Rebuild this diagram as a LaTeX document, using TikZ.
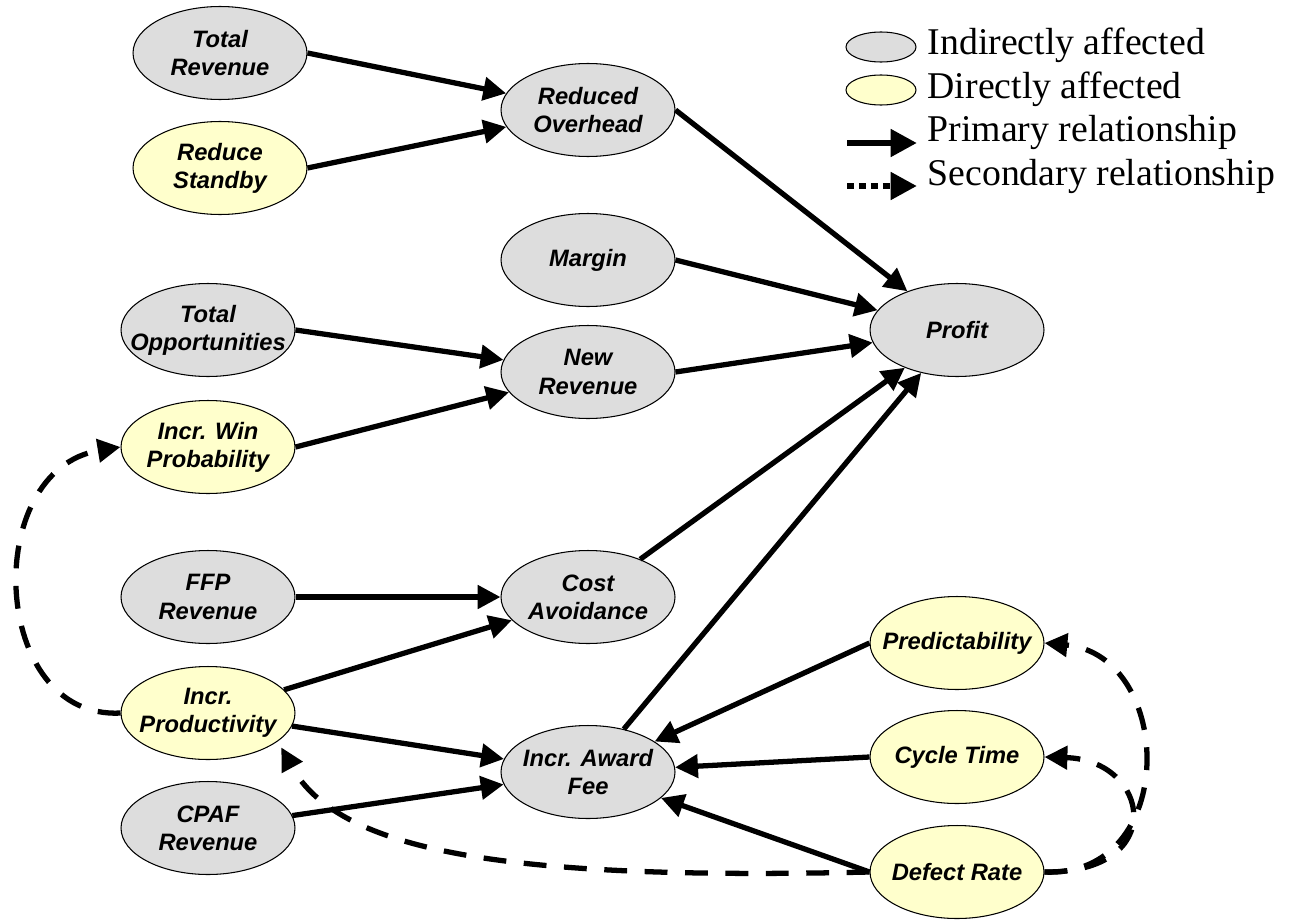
\documentclass[tikz,border=0pt]{standalone}
\usepackage{fontspec}
\setmainfont{Liberation Serif}
\newfontfamily\nodefont{Liberation Sans}
\usepackage{xcolor}
\usetikzlibrary{shapes.geometric,arrows.meta}
\definecolor{indgray}{HTML}{DDDDDD}
\definecolor{diryellow}{HTML}{FFFFCC}

\begin{document}
\begin{tikzpicture}[
    x=0.02cm, y=-0.02cm, line width=3pt,
    >={Triangle[length=13pt,width=13pt]},
    box/.style={ellipse, draw, line width=0.6pt, minimum width=3.48cm, minimum height=1.86cm,
      inner xsep=-14pt, inner ysep=0pt, align=center, font=\nodefont\bfseries\itshape\fontsize{13.5}{16}\selectfont},
    ind/.style={box, fill=indgray},
    dir/.style={box, fill=diryellow},
    sec/.style={dash pattern=on 13pt off 10pt},
    legtext/.style={anchor=base west, inner sep=0pt, font=\fontsize{21.5}{26}\selectfont}
  ]
    \useasboundingbox (0,0) rectangle (1293,919);
    % factors
    \node[ind] (tr) at (220,53) {Total\\Revenue};
    \node[dir] (rs) at (220,168) {Reduce\\Standby};
    \node[ind] (ro) at (588,110) {Reduced\\Overhead};
    \node[ind] (mg) at (588,260) {Margin};
    \node[ind] (to) at (208,330) {Total\\Opportunities};
    \node[ind] (nr) at (588,372) {New\\Revenue};
    \node[dir] (iw) at (208,447) {Incr. Win\\Probability};
    \node[ind] (pf) at (957,330) {Profit};
    \node[ind] (ffp) at (208,597) {FFP\\Revenue};
    \node[ind] (ca) at (588,597) {Cost\\Avoidance};
    \node[dir] (ip) at (208,713) {Incr.\\Productivity};
    \node[ind] (af) at (588,772) {Incr. Award\\Fee};
    \node[ind] (cpaf) at (208,828) {CPAF\\Revenue};
    \node[dir] (pd) at (957,643) {Predictability};
    \node[dir] (ct) at (957,757) {Cycle Time};
    \node[dir] (dr) at (957,872) {Defect Rate};
    % primary
    \draw[->] (tr.east) -- (ro);
    \draw[->] (rs.east) -- (ro);
    \draw[->] (ro.east) -- (pf);
    \draw[->] (mg.east) -- (pf);
    \draw[->] (to.east) -- (nr);
    \draw[->] (iw.east) -- (nr);
    \draw[->] (nr.east) -- (pf);
    \draw[->] (ca) -- (pf);
    \draw[->] (af) -- (pf);
    \draw[->] (ffp) -- (ca);
    \draw[->] (ip) -- (ca);
    \draw[->] (ip) -- (af);
    \draw[->] (cpaf) -- (af);
    \draw[->] (pd.west) -- (af);
    \draw[->] (ct.west) -- (af);
    \draw[->] (dr.west) -- (af);
    % secondary
    \draw[->, sec] (ip.west) .. controls (-10,720) and (-20,470) .. (iw.west);
    \draw[->, sec, shorten >=4pt] (dr.west) .. controls (520,880) and (340,855) .. (ip.-22);
    \draw[->, sec] (dr.east) .. controls (1180,878) and (1175,655) .. (pd.east);
    \draw[->, sec] (dr.east) .. controls (1170,873) and (1150,760) .. (ct.east);
    % legend
    \node[ind, minimum width=1.4cm, minimum height=0.6cm, inner sep=0pt] (k1) at (881,47) {};
    \node[dir, minimum width=1.4cm, minimum height=0.6cm, inner sep=0pt] (k2) at (881,90) {};
    \coordinate (p1) at (847,143);
    \coordinate (p2) at (917,143);
    \coordinate (s1) at (847,186);
    \coordinate (s2) at (917,186);
    \draw[->, line width=3.8pt, >={Triangle[length=15pt,width=15pt]}] (p1) -- (p2);
    \draw[->, line width=3.8pt, dash pattern=on 4pt off 2.8pt, >={Triangle[length=15pt,width=15pt]}] (s1) -- (s2);
    \node[legtext] (l1) at (925,55) {Indirectly affected};
    \node[legtext] (l2) at (925,98) {Directly affected};
    \node[legtext] (l3) at (925,141) {Primary relationship};
    \node[legtext] (l4) at (925,185) {Secondary relationship};
\end{tikzpicture}
\end{document}
